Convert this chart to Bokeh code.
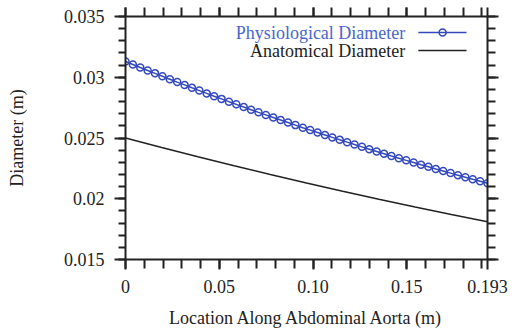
from bokeh.plotting import figure
from bokeh.models import Range1d, FixedTicker, LinearAxis, Label
from bokeh.embed import file_html
from bokeh.resources import INLINE

# ---- data ----
x_end = 0.193
n_phys = 50
phys_diam = [0.03130, 0.03105, 0.03080, 0.03056, 0.03032, 0.03008, 0.02984, 0.02960,
             0.02937, 0.02913, 0.02890, 0.02867, 0.02844, 0.02822, 0.02799, 0.02777,
             0.02755, 0.02733, 0.02711, 0.02690, 0.02669, 0.02648, 0.02627, 0.02606,
             0.02585, 0.02565, 0.02545, 0.02525, 0.02505, 0.02485, 0.02466, 0.02446,
             0.02427, 0.02408, 0.02389, 0.02371, 0.02352, 0.02334, 0.02316, 0.02298,
             0.02280, 0.02263, 0.02245, 0.02228, 0.02211, 0.02194, 0.02177, 0.02160,
             0.02144, 0.02127]
anat_x = [0.0, 0.0193, 0.0386, 0.0579, 0.0772, 0.0965, 0.1158, 0.1351, 0.1544, 0.1737, 0.193]
anat_diam = [0.02500, 0.02422, 0.02346, 0.02272, 0.02200, 0.02130, 0.02062, 0.01996,
             0.01932, 0.01870, 0.01810]
x_ticks = [0.0, 0.05, 0.10, 0.15, 0.193]
x_tick_labels = ["0", "0.05", "0.10", "0.15", "0.193"]
y_ticks = [0.015, 0.02, 0.025, 0.03, 0.035]
y_tick_labels = ["0.015", "0.02", "0.025", "0.03", "0.035"]
legend_labels = ["Physiological Diameter", "Anatomical Diameter"]

phys_x = [i * x_end / (n_phys - 1) for i in range(n_phys)]

FONT = "Times New Roman, Liberation Serif, serif"
BLUE = "#3449bd"
DARK = "#222222"

x0, x1 = 0.0, 0.193
y0, y1 = 0.015, 0.035

p = figure(width=512, height=332, output_backend="svg", toolbar_location=None,
           x_range=Range1d(x0, x1), y_range=Range1d(y0, y1),
           min_border_left=125, min_border_right=25, min_border_top=16, min_border_bottom=73,
           x_axis_location=None, y_axis_location=None)
p.grid.visible = False
p.outline_line_color = None
p.background_fill_color = "white"
p.border_fill_color = "white"

x_minor = [round(i * 0.01, 3) for i in range(0, 20)]
y_minor = [round(0.015 + i * 0.001, 4) for i in range(0, 21)]
xt = FixedTicker(ticks=x_ticks, minor_ticks=x_minor)
yt = FixedTicker(ticks=y_ticks, minor_ticks=y_minor)


def style(ax, major_out, minor_out):
    ax.axis_line_color = DARK
    ax.axis_line_width = 2
    ax.major_tick_line_color = DARK
    ax.minor_tick_line_color = DARK
    ax.major_tick_line_width = 2
    ax.minor_tick_line_width = 2
    ax.major_tick_in = 0
    ax.minor_tick_in = 0
    ax.major_tick_out = major_out
    ax.minor_tick_out = minor_out
    ax.major_label_text_font = FONT
    ax.major_label_text_color = DARK
    ax.major_label_text_font_size = "18px"
    ax.axis_label_text_font = FONT
    ax.axis_label_text_font_size = "18px"
    ax.axis_label_text_font_style = "normal"
    ax.axis_label_text_color = DARK


bottom = LinearAxis(ticker=xt, axis_label="Location Along Abdominal Aorta (m)")
bottom.major_label_overrides = dict(zip(x_ticks, x_tick_labels))
style(bottom, 10, 9)
bottom.major_label_standoff = 10
bottom.axis_label_standoff = 12
p.add_layout(bottom, "below")

left = LinearAxis(ticker=yt, axis_label="Diameter (m)")
left.major_label_overrides = dict(zip(y_ticks, y_tick_labels))
style(left, 11, 7)
left.major_label_standoff = 10
left.axis_label_standoff = 34
p.add_layout(left, "left")

top = LinearAxis(ticker=xt)
style(top, 9, 9)
top.major_label_overrides = {t: "" for t in x_ticks}
top.major_label_standoff = 0
p.add_layout(top, "above")

right = LinearAxis(ticker=yt)
style(right, 11, 8)
right.major_label_overrides = {t: "" for t in y_ticks}
right.major_label_standoff = 0
p.add_layout(right, "right")

# data series
p.line(phys_x, phys_diam, line_color=BLUE, line_width=1.5)
p.scatter(phys_x, phys_diam, marker="circle", size=7, line_color=BLUE, line_width=1.5,
          fill_color=None)
p.line(anat_x, anat_diam, line_color=DARK, line_width=1.5)

# legend (glyph to the right of a right-aligned label), placed by fractions of the frame
def fx(f):
    return x0 + f * (x1 - x0)

def fy(f):
    return y1 - f * (y1 - y0)

leg_y = [fy(0.066), fy(0.14)]
p.line([fx(0.809), fx(0.942)], [leg_y[0], leg_y[0]], line_color=BLUE, line_width=1.5)
p.scatter([fx(0.876)], [leg_y[0]], marker="circle", size=7, line_color=BLUE, line_width=1.5,
          fill_color=None)
p.line([fx(0.809), fx(0.942)], [leg_y[1], leg_y[1]], line_color=DARK, line_width=1.5)
for lab, yy, col in zip(legend_labels, leg_y, ["#4a66cc", DARK]):
    p.add_layout(Label(x=fx(0.773), y=yy, text=lab, text_align="right", text_baseline="middle",
                       text_font=FONT, text_font_size="18px", text_color=col))

open("out.html", "w").write(file_html(p, INLINE))
